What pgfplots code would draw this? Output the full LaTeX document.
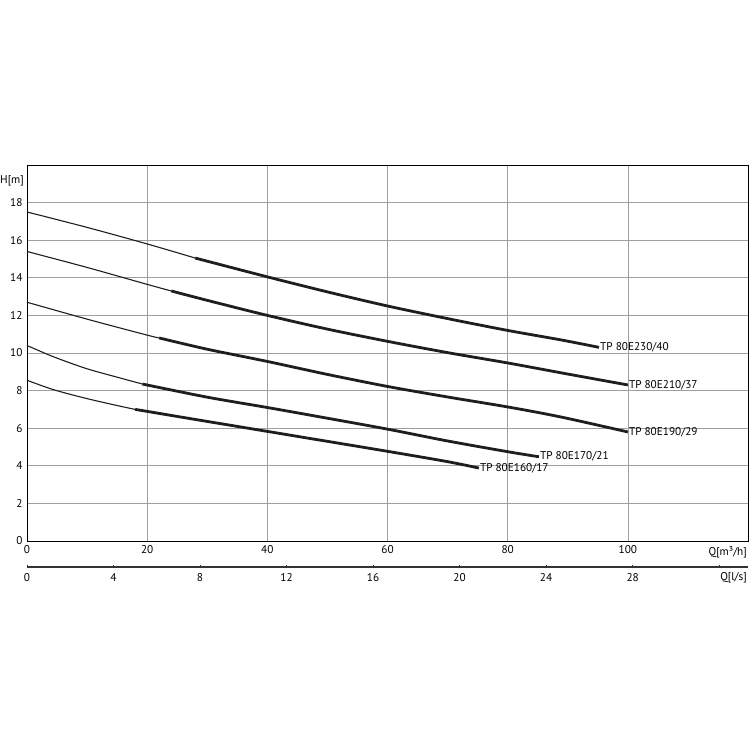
\documentclass[border=0pt]{standalone}
\usepackage{pgfplots}
\pgfplotsset{compat=1.18}
\usepackage{fontspec}
\setmainfont{PT Sans}
\definecolor{crv}{HTML}{1E1E1E}
\newcommand\tf{\fontsize{11.3}{13}\selectfont}
\begin{document}
\begin{tikzpicture}[x=1bp,y=1bp]
\useasboundingbox (0,0) rectangle (750,750);
\begin{axis}[
  at={(27bp,209bp)}, anchor=south west,
  scale only axis, width=721bp, height=376bp,
  xmin=0, xmax=120, ymin=0, ymax=20,
  xtick={0,20,...,100}, ytick={0,2,...,18},
  grid=major, grid style={gray!75, line width=0.6bp},
  major tick length=0pt,
  axis line style={line width=0.9bp, black},
  tick label style={font=\tf},
  /pgf/number format/assume math mode=true,
  xticklabel style={yshift=-1bp},
  yticklabel style={xshift=-1bp},
  clip=false,
]
% TP 80E230/40
\addplot[crv, line width=1.1bp, smooth] coordinates {(0,17.5) (10,16.68) (20,15.8) (28,15.05)};
\addplot[crv, line width=2.8bp, smooth] coordinates {(28,15.05) (40,14.05) (50,13.25) (60,12.5) (70,11.83) (80,11.2) (88.8,10.7) (95.2,10.3)};
% TP 80E210/37
\addplot[crv, line width=1.1bp, smooth] coordinates {(0,15.4) (10,14.55) (20,13.65) (24,13.3)};
\addplot[crv, line width=2.8bp, smooth] coordinates {(24,13.3) (30,12.8) (40,12.0) (50,11.27) (60,10.62) (70,10.02) (80,9.47) (90,8.88) (100,8.3)};
% TP 80E190/29
\addplot[crv, line width=1.1bp, smooth] coordinates {(0,12.7) (10,11.8) (20,10.95) (22,10.8)};
\addplot[crv, line width=2.8bp, smooth] coordinates {(22,10.8) (30,10.2) (40,9.55) (50,8.86) (60,8.22) (70,7.66) (80,7.13) (88.8,6.6) (100,5.8)};
% TP 80E170/21
\addplot[crv, line width=1.1bp, smooth] coordinates {(0,10.4) (4.4,9.8) (9.9,9.17) (15.5,8.67) (19.2,8.35)};
\addplot[crv, line width=2.8bp, smooth] coordinates {(19.2,8.35) (30,7.65) (40,7.1) (50,6.53) (60,5.95) (70,5.32) (80,4.75) (85.2,4.48)};
% TP 80E160/17
\addplot[crv, line width=1.1bp, smooth] coordinates {(0,8.55) (4.4,8.05) (9.9,7.58) (15.5,7.17) (18,7.0)};
\addplot[crv, line width=2.8bp, smooth] coordinates {(18,7.0) (30,6.36) (40,5.83) (50,5.3) (60,4.77) (70,4.22) (75.2,3.88)};
\begin{scope}[font=\tf]
\node[anchor=west, inner sep=1bp] at (axis cs:95.2,10.3) {TP 80E230/40};
\node[anchor=west, inner sep=1bp] at (axis cs:100,8.3) {TP 80E210/37};
\node[anchor=west, inner sep=1bp] at (axis cs:100,5.8) {TP 80E190/29};
\node[anchor=west, inner sep=1bp] at (axis cs:85.2,4.48) {TP 80E170/21};
\node[anchor=west, inner sep=1bp] at (axis cs:75.2,3.88) {TP 80E160/17};
\node[anchor=north east, inner sep=1bp] at ([yshift=-4bp]rel axis cs:1,0) {Q[m³/h]};
\node[anchor=east, inner sep=1bp] at ([xshift=-2bp]axis cs:0,19.15) {H[m]};
\end{scope}
\end{axis}
\begin{axis}[
  at={(27bp,183bp)}, anchor=south west,
  scale only axis, width=721bp, height=1bp,
  xmin=0, xmax=33.3333, ymin=0, ymax=1,
  axis x line=bottom, axis y line=none,
  x axis line style={-, line width=1.2bp, black!80},
  xtick={0,4,...,32}, xticklabels={0,4,8,12,16,20,24,28,},
  major tick length=3bp, tick align=center,
  tick style={black!80, line width=0.8bp},
  tick label style={font=\tf},
  /pgf/number format/assume math mode=true,
  xticklabel style={yshift=-1bp},
  clip=false,
]
\node[anchor=north east, inner sep=1bp, font=\tf] at ([yshift=-4bp]rel axis cs:1,0) {Q[l/s]};
\end{axis}
\end{tikzpicture}
\end{document}
